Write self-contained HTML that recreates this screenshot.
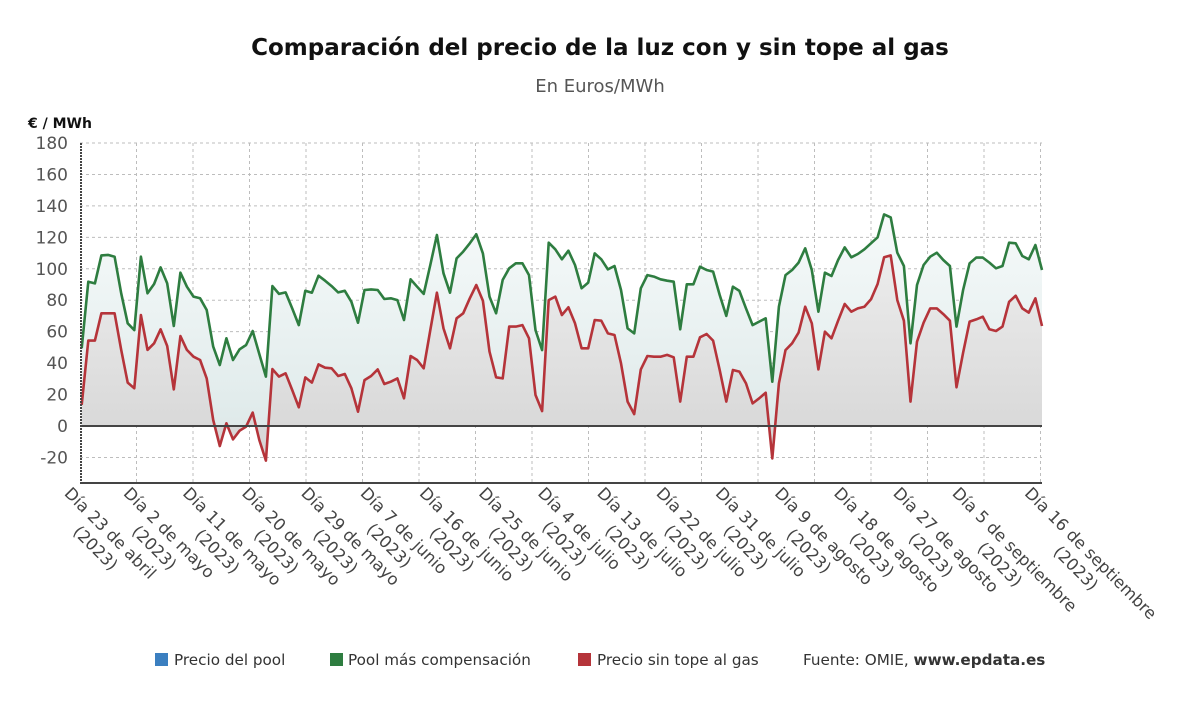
<!DOCTYPE html>
<html><head><meta charset="utf-8"><style>
body{margin:0;background:#fff;width:1200px;height:705px;overflow:hidden;font-family:"DejaVu Sans","Liberation Sans",sans-serif}
</style></head><body>
<svg id="chart" width="1200" height="705" xmlns="http://www.w3.org/2000/svg" font-family="DejaVu Sans, Liberation Sans, sans-serif">
<defs>
<linearGradient id="gG" x1="0" y1="0" x2="0" y2="1"><stop offset="0" stop-color="#f6fafa"/><stop offset="1" stop-color="#dfeaea"/></linearGradient>
<linearGradient id="gR" x1="0" y1="0" x2="0" y2="1"><stop offset="0" stop-color="#ececec"/><stop offset="1" stop-color="#d5d5d5"/></linearGradient>
</defs>
<text x="600" y="55" text-anchor="middle" font-size="23" font-weight="bold" fill="#111">Comparación del precio de la luz con y sin tope al gas</text>
<text x="600" y="92" text-anchor="middle" font-size="18" fill="#555">En Euros/MWh</text>
<text x="28" y="128" font-size="14" font-weight="bold" fill="#111">€ / MWh</text>
<g id="grid"></g><g id="areas"></g><g id="lines"></g><g id="axes"></g><g id="xlabels"></g>
<g font-size="15.2" fill="#333">
<rect x="155" y="653" width="13" height="13" fill="#3b7fc0"/>
<text x="174" y="665">Precio del pool</text>
<rect x="330" y="653" width="13" height="13" fill="#2e7d40"/>
<text x="348" y="665">Pool más compensación</text>
<rect x="578" y="653" width="13" height="13" fill="#b5343a"/>
<text x="597" y="665">Precio sin tope al gas</text>
<text x="803" y="665">Fuente: OMIE, <tspan font-weight="bold">www.epdata.es</tspan></text>
</g>
</svg>
<script>
const yTicks=[-20,0,20,40,60,80,100,120,140,160,180];
const xLabels=["Día 23 de abril","Día 2 de mayo","Día 11 de mayo","Día 20 de mayo","Día 29 de mayo","Día 7 de junio","Día 16 de junio","Día 25 de junio","Día 4 de julio","Día 13 de julio","Día 22 de julio","Día 31 de julio","Día 9 de agosto","Día 18 de agosto","Día 27 de agosto","Día 5 de septiembre","Día 16 de septiembre"];
const xLabelIdx=[0,9,18,27,36,45,54,63,72,81,90,99,108,117,126,135,146];
const greenVals=[49.4,91.8,90.7,108.5,108.8,107.7,84.4,65.3,61,107.7,84.4,90.3,100.9,90.7,63.6,97.5,88.6,82.3,81.2,73.8,50.5,38.8,55.8,42,48.8,51.5,60.4,45.8,31.4,89,84,85,74.8,64.2,86,84.8,95.6,92.4,89,85,86,79,65.7,86.5,86.9,86.5,80.8,81.2,80.1,67.4,
93.3,88.6,84,102.4,121.5,97.1,84.8,106.6,110.9,116.2,121.9,109.8,82.3,71.7,92.9,100.3,103.5,103.5,96,61,48.3,116.6,112.4,106,111.5,102.4,87.6,91.2,109.8,106,99.6,101.8,86.5,62.1,58.9,87.6,96,95,93.3,92.4,91.8,61.5,90.1,90.1,101.3,99.2,98.2,83.3,70,
88.6,85.9,74.8,64.2,66.4,68.5,28.2,75.9,96,99.2,103.9,113,99.2,72.7,97.5,95.4,105.6,113.6,107.3,109.4,112.4,116.2,120,134.6,132.7,110.2,101.8,52.6,89.7,102.4,107.7,110.2,105.6,101.8,63.2,86.5,103.5,107.1,107.1,103.9,100.3,101.8,116.6,116.2,108.1,106,115.1,99.2];
const redVals=[13.4,54.3,54.3,71.7,71.7,71.7,48.4,27.6,24,70.6,48.4,52.6,61.5,50.9,23.3,57.2,48.4,44.1,42,30.3,3.8,-12.7,1.7,-8.5,-3,-0.4,8.5,-8.9,-22,36.2,31.4,33.5,22.9,11.9,30.9,27.6,39.2,37.1,36.7,31.8,33.1,24,9.1,29.2,31.8,36,26.7,28.2,30.3,17.6,
44.5,42,36.7,61,84.8,62.1,49.4,68.5,71.7,81.2,89.7,79.7,47.3,31,30.3,63.2,63.2,64.2,55.8,19.7,9.5,80.1,82.3,70.6,75.5,65.3,49.4,49.4,67.4,67,58.9,57.9,39.9,15.5,7.6,36,44.5,44.1,44.1,45.2,43.7,15.5,44.1,44.1,56.4,58.5,54.3,35.6,15.5,
35.6,34.6,27.1,14.4,17.6,21.2,-20.6,27.1,48.3,52.6,59.4,75.9,65.3,36,60,55.8,67,77.6,72.7,74.8,75.9,80.6,90.3,107.3,108.5,80.1,67,15.5,53.6,65.7,74.8,74.8,71.2,67,24.6,46.6,66.4,67.8,69.5,61.5,60.4,63.2,79,82.9,74.8,72.1,81.2,63.6];

const NS="http://www.w3.org/2000/svg";
const X0=81.7,X1=1042,Y0=426,PX=1.5722,N=greenVals.length;
function xs(i){return X0+(X1-X0)*i/(N-1);}
function ys(v){return Y0-v*PX;}
function mk(t,a,p){const e=document.createElementNS(NS,t);for(const k in a)e.setAttribute(k,a[k]);p.appendChild(e);return e;}
const grid=document.getElementById('grid'),axes=document.getElementById('axes');
yTicks.forEach(v=>{
  if(v!==0){const l=mk('line',{x1:80,x2:1042,y1:ys(v),y2:ys(v),stroke:'#bdbdbd','stroke-dasharray':'3,3'},grid);
  
  }
  const t=mk('text',{x:68,y:ys(v)+6,'text-anchor':'end','font-size':17,fill:'#555'},axes);
  t.textContent=v;
  
  
});
for(let k=1;k<=17;k++){const x=80+56.5*k;
  const l=mk('line',{x1:x,x2:x,y1:143,y2:483,stroke:'#bdbdbd','stroke-dasharray':'3,3'},grid);
  
  }
function areaPath(vals){let d='M'+xs(0)+','+ys(0);vals.forEach((v,i)=>d+='L'+xs(i).toFixed(1)+','+ys(v).toFixed(1));return d+'L'+xs(N-1)+','+ys(0)+'Z';}
function linePath(vals){return vals.map((v,i)=>(i?'L':'M')+xs(i).toFixed(1)+','+ys(v).toFixed(1)).join('');}
const areas=document.getElementById('areas'),lines=document.getElementById('lines');
const ga=mk('path',{d:areaPath(greenVals),fill:'url(#gG)'},areas);


const ra=mk('path',{d:areaPath(redVals),fill:'url(#gR)'},areas);


const gl=mk('path',{d:linePath(greenVals),fill:'none',stroke:'#2e7d40','stroke-width':2.6,'stroke-linejoin':'round'},lines);


const rl=mk('path',{d:linePath(redVals),fill:'none',stroke:'#b5343a','stroke-width':2.6,'stroke-linejoin':'round'},lines);


const zl=mk('line',{x1:80,x2:1042,y1:Y0,y2:Y0,stroke:'#444','stroke-width':2},axes);


const ya=mk('line',{x1:81,x2:81,y1:143,y2:483,stroke:'#444','stroke-width':2,'stroke-dasharray':'2,1'},axes);


const xa=mk('line',{x1:80,x2:1042,y1:483,y2:483,stroke:'#444','stroke-width':2},axes);


const xl=document.getElementById('xlabels');
xLabels.forEach((s,j)=>{
  const x=xs(xLabelIdx[j])-14;
  const g=mk('g',{transform:'translate('+x+',490) rotate(45)','font-size':16.5,fill:'#444'},xl);
  
  
  const t1=mk('text',{x:0,y:6},g);t1.textContent=s;
  const w=t1.getComputedTextLength();
  const t2=mk('text',{x:w/2,y:27,'text-anchor':'middle'},g);t2.textContent='(2023)';
});
</script>
</body></html>
